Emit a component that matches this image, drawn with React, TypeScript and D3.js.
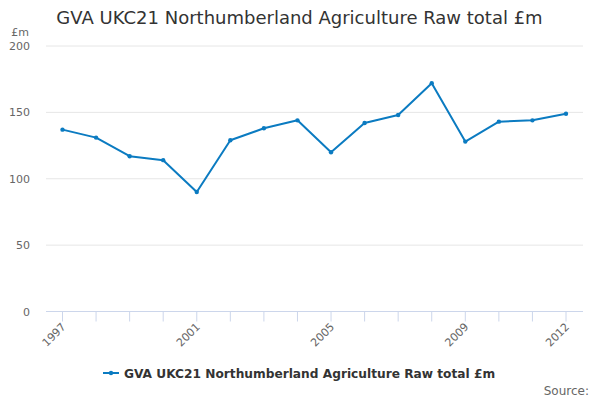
import React from "react";
import * as d3 from "d3";

const years: number[] = [1997,1998,1999,2000,2001,2002,2003,2004,2005,2006,2007,2008,2009,2010,2011,2012];
const values: number[] = [137,131,117,114,90,129,138,144,120,142,148,172,128,143,144,149];
const yTicks: number[] = [0,50,100,150,200];
const xLabelYears: number[] = [1997,2001,2005,2009,2012];
const title = "GVA UKC21 Northumberland Agriculture Raw total £m";
const seriesName = "GVA UKC21 Northumberland Agriculture Raw total £m";
const unitLabel = "£m";
const sourceLabel = "Source:";

const W = 600, H = 400;
const plotLeft = 46, plotRight = 583, plotTop = 46, plotBottom = 311.5;
const color = "#0b7bc1";
const font = "'DejaVu Sans', Verdana, sans-serif";

export default function App() {
  const x = d3.scaleLinear().domain([1997, 2012]).range([62.5, 566]);
  const y = d3.scaleLinear().domain([0, 200]).range([plotBottom, plotTop]);
  const line = d3.line<number>().x((_, i) => x(years[i])).y((d) => y(d));
  const path = line(values) || "";
  return (
    <svg width={W} height={H} style={{ position: "absolute", left: 0, top: 0, fontFamily: font }}>
      <rect width={W} height={H} fill="#fff" />
      <text x={299.5} y={24} textAnchor="middle" fontSize={18} fill="#333">{title}</text>
      <text x={29} y={36} textAnchor="end" fontSize={11} fill="#666">{unitLabel}</text>
      {yTicks.map((t) => (
        <g key={t}>
          {t !== 0 && <line x1={plotLeft} x2={plotRight} y1={y(t)} y2={y(t)} stroke="#e6e6e6" strokeWidth={1} />}
          <text x={30} y={y(t) + 4} textAnchor="end" fontSize={11} fill="#666">{t}</text>
        </g>
      ))}
      <line x1={plotLeft} x2={plotRight} y1={plotBottom} y2={plotBottom} stroke="#ccd6eb" strokeWidth={1} />
      {years.map((yr) => (
        <line key={yr} x1={x(yr)} x2={x(yr)} y1={plotBottom} y2={plotBottom + 10} stroke="#ccd6eb" strokeWidth={1} />
      ))}
      {xLabelYears.map((yr) => (
        <text key={yr} transform={`translate(${x(yr) + 4},${plotBottom + 16}) rotate(-45)`} textAnchor="end" fontSize={11} fill="#666">{yr}</text>
      ))}
      <path d={path} fill="none" stroke={color} strokeWidth={2} strokeLinejoin="round" />
      {values.map((v, i) => (
        <circle key={i} cx={x(years[i])} cy={y(v)} r={2.2} fill={color} />
      ))}
      <g>
        <line x1={103} x2={119} y1={373} y2={373} stroke={color} strokeWidth={2} />
        <circle cx={111} cy={373} r={2.2} fill={color} />
        <text x={124} y={377.5} fontSize={12.2} fontWeight="bold" fill="#333">{seriesName}</text>
      </g>
      <text x={589} y={395} textAnchor="end" fontSize={12} fill="#666">{sourceLabel}</text>
    </svg>
  );
}
